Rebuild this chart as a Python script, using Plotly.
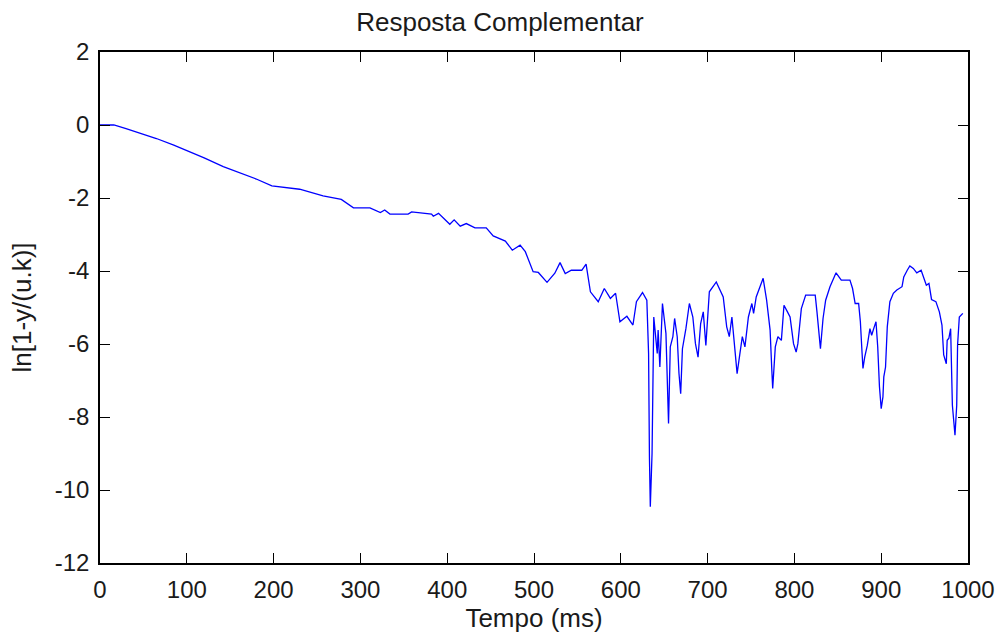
import plotly.graph_objects as go

t_ms = [0, 16, 30, 50, 65, 85, 104, 120, 142, 160, 180, 198, 215, 230, 257, 278, 292, 311, 323, 328,
        334, 355, 359, 382, 384, 390, 403, 408, 415, 422, 432, 445, 453, 467, 475, 484, 490, 499, 505, 515,
        524, 530, 536, 543, 555, 560, 565, 574, 581, 588, 594, 599, 607, 614, 618, 625, 630, 632, 633, 634,
        636, 637, 638, 642, 643, 645, 648, 652, 654, 655, 657, 660, 662, 665, 667, 669, 671, 675, 679, 683,
        686, 689, 692, 695, 698, 702, 710, 718, 722, 725, 728, 730, 732, 734, 737, 740, 743, 747, 751, 753,
        756, 764, 768, 772, 774, 775, 778, 781, 785, 788, 792, 795, 799, 802, 804, 808, 813, 824, 826, 829,
        830, 833, 836, 841, 848, 854, 864, 867, 870, 874, 876, 878, 879, 881, 884, 887, 889, 892, 894, 896,
        898, 900, 902, 903, 905, 907, 910, 914, 918, 924, 926, 930, 933, 937, 941, 946, 950, 952, 955, 958,
        963, 967, 970, 972, 975, 976, 978, 980, 982, 985, 987, 988, 990, 994]
ln_vals = [0.0, 0.0, -0.1, -0.25, -0.37, -0.55, -0.73, -0.9, -1.14, -1.3, -1.48, -1.67, -1.72, -1.76, -1.94, -2.04, -2.27, -2.27, -2.4, -2.33,
           -2.44, -2.44, -2.38, -2.44, -2.5, -2.42, -2.72, -2.6, -2.77, -2.7, -2.82, -2.82, -3.04, -3.18, -3.43, -3.29, -3.47, -4.02, -4.04, -4.31,
           -4.06, -3.77, -4.07, -3.98, -3.98, -3.81, -4.57, -4.84, -4.48, -4.75, -4.61, -5.39, -5.24, -5.48, -4.84, -4.59, -4.8, -6.26, -9.1, -10.46,
           -9.0, -6.53, -5.26, -6.26, -5.62, -6.63, -4.89, -5.71, -7.4, -8.18, -6.08, -5.8, -5.3, -5.8, -6.8, -7.36, -6.13, -5.58, -4.89, -5.26,
           -5.99, -6.36, -5.44, -5.12, -6.04, -4.57, -4.3, -4.71, -5.53, -5.8, -5.26, -5.8, -6.4, -6.81, -6.3, -5.8, -6.08, -5.26, -4.89, -5.16,
           -4.71, -4.2, -4.8, -5.62, -6.72, -7.22, -6.08, -5.8, -5.9, -4.94, -5.12, -5.26, -5.99, -6.22, -5.99, -5.03, -4.66, -4.66, -5.12, -5.8,
           -6.13, -5.3, -4.8, -4.43, -4.05, -4.25, -4.25, -4.48, -4.89, -4.89, -5.39, -6.26, -6.67, -6.36, -6.04, -5.58, -5.76, -5.53, -5.39, -6.08,
           -7.17, -7.77, -7.45, -6.9, -6.63, -5.53, -4.84, -4.61, -4.52, -4.43, -4.16, -3.98, -3.86, -3.93, -4.05, -3.98, -4.3, -4.39, -4.34, -4.78,
           -4.84, -5.12, -5.48, -6.3, -6.54, -5.9, -5.84, -5.58, -7.68, -8.5, -7.68, -6.03, -5.26, -5.16]

x_ticks = [0, 100, 200, 300, 400, 500, 600, 700, 800, 900, 1000]
y_ticks = [2, 0, -2, -4, -6, -8, -10, -12]

fig = go.Figure()
fig.add_trace(go.Scatter(x=t_ms, y=ln_vals, mode="lines",
                         line=dict(color="#0000FF", width=1.3), showlegend=False))

fam = "Liberation Sans, Arial, sans-serif"
tick_font = dict(family=fam, size=24, color="#1a1a1a")
label_font = dict(family=fam, size=26, color="#1a1a1a")
axis_common = dict(showgrid=False, zeroline=False, showline=True, linecolor="#000000", linewidth=1.5,
                   mirror="ticks", ticks="inside", ticklen=10, tickcolor="#000000", tickwidth=1.2,
                   tickfont=tick_font, automargin=False)

fig.update_layout(
    width=1000, height=636,
    margin=dict(l=100, r=32, t=52, b=73),
    paper_bgcolor="#FFFFFF", plot_bgcolor="#FFFFFF",
    title=dict(text="Resposta Complementar", x=0.5, xanchor="center", y=0.965, yanchor="middle",
               font=label_font),
    xaxis=dict(range=[0, 1000], tickvals=x_ticks, ticktext=[str(v) for v in x_ticks],
               ticklabelstandoff=4,
               title=dict(text="Tempo (ms)", font=label_font, standoff=4), **axis_common),
    yaxis=dict(range=[-12, 2], tickvals=y_ticks, ticktext=[str(v) for v in y_ticks],
               ticklabelstandoff=4,
               title=dict(text="ln[1-y/(u.k)]", font=label_font, standoff=16), **axis_common),
)

fig.write_html("out.html")
